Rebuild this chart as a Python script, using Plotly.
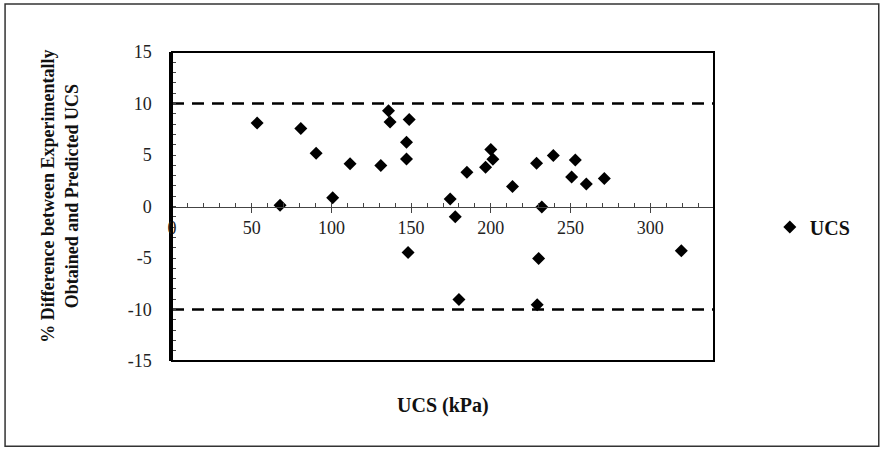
import plotly.graph_objects as go

# ---- data ----
ucs_kpa = [53.4, 67.8, 80.8, 90.4, 100.8, 111.7, 131.0, 135.8, 136.8, 147.1,
           147.1, 148.8, 148.1, 174.5, 177.7, 180.0, 185.0, 196.7, 200.0, 201.3,
           213.6, 228.7, 229.1, 230.0, 232.0, 239.2, 250.7, 253.0, 259.9, 271.2,
           319.5]
pct_diff = [8.1, 0.12, 7.57, 5.17, 0.85, 4.16, 3.97, 9.3, 8.2, 6.24,
            4.62, 8.45, -4.46, 0.73, -0.99, -9.03, 3.33, 3.81, 5.53, 4.59,
            1.93, 4.2, -9.55, -5.04, -0.04, 4.94, 2.87, 4.52, 2.19, 2.71,
            -4.3]
limit_x = [0, 340]
upper_limit = [10, 10]
lower_limit = [-10, -10]
x_ticks = [0, 50, 100, 150, 200, 250, 300]
x_tick_text = ["0", "50", "100", "150", "200", "250", "300"]
y_ticks = [-15, -10, -5, 0, 5, 10, 15]
y_tick_text = ["-15", "-10", "-5", "0", "5", "10", "15"]

FONT = "'Liberation Serif', 'Times New Roman', Times, serif"

fig = go.Figure()
for lim in (upper_limit, lower_limit):
    fig.add_trace(go.Scatter(
        x=limit_x, y=lim, mode="lines",
        line=dict(color="black", width=2.5, dash="12px,8px"),
        showlegend=False, hoverinfo="skip"))

fig.add_trace(go.Scatter(
    x=ucs_kpa, y=pct_diff, mode="markers", name="UCS",
    marker=dict(symbol="diamond", size=10, color="black")))

fig.update_layout(
    width=881, height=449,
    margin=dict(l=172, r=167, t=52, b=88),
    paper_bgcolor="white", plot_bgcolor="white",
    font=dict(family=FONT, size=18, color="#222"),
    showlegend=True,
    legend=dict(x=1.103, y=0.434, xanchor="left", yanchor="middle",
                font=dict(family=FONT, size=20, color="#111", weight="bold"),
                bgcolor="rgba(0,0,0,0)"),
    xaxis=dict(range=[0, 340], tickvals=x_ticks, ticktext=x_tick_text,
               anchor="free", position=0.5,
               showline=True, linecolor="#444", linewidth=1,
               ticks="outside", ticklen=5, tickcolor="#444", tickwidth=1,
               minor=dict(dtick=10, tick0=0, ticks="inside", ticklen=4,
                          tickcolor="#444", tickwidth=1),
               showgrid=False, zeroline=False,
               tickfont=dict(family=FONT, size=18, color="#222")),
    yaxis=dict(range=[-15, 15], tickvals=y_ticks, ticktext=y_tick_text,
               showline=True, linecolor="black", linewidth=2.5,
               ticks="inside", ticklen=4, tickcolor="#444", tickwidth=1,
               minor=dict(dtick=1, tick0=0, ticks="inside", ticklen=4,
                          tickcolor="#444", tickwidth=1),
               showgrid=False, zeroline=False, ticklabelstandoff=14,
               tickfont=dict(family=FONT, size=18, color="#222")),
)

# plot-area frame and outer border
fig.add_shape(type="rect", xref="paper", yref="paper", x0=0, x1=1, y0=0, y1=1,
              line=dict(color="black", width=2))
fig.add_shape(type="rect", xref="paper", yref="paper",
              x0=-0.308, x1=1.304, y0=-0.276, y1=1.1555,
              line=dict(color="#333", width=1.5))

fig.add_annotation(text="UCS (kPa)", xref="paper", yref="paper", x=0.5, y=-0.1435,
                   showarrow=False, xanchor="center", yanchor="middle",
                   font=dict(family=FONT, size=20, color="#111", weight="bold"))
fig.add_annotation(text="% Difference between Experimentally<br>Obtained and Predicted UCS",
                   xref="paper", yref="paper", x=-0.2066, y=0.532, textangle=-90,
                   showarrow=False, xanchor="center", yanchor="middle",
                   font=dict(family=FONT, size=18, color="#111", weight="bold"))

fig.write_html("out.html")
